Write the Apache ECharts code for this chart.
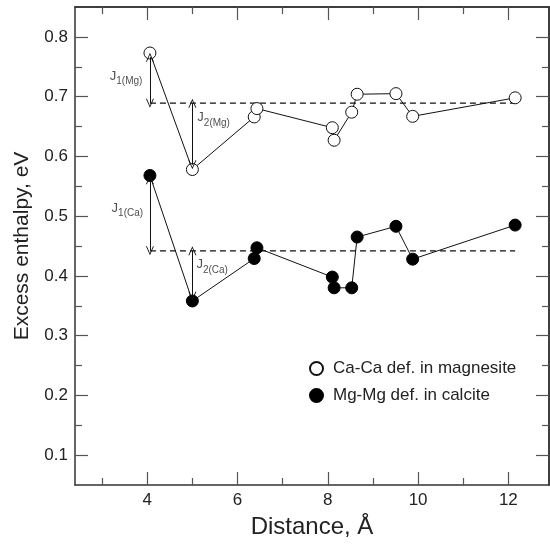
<!DOCTYPE html>
<html>
<head>
<meta charset="utf-8">
<script src="https://cdn.jsdelivr.net/npm/echarts@6/dist/echarts.min.js"></script>
<style>
  html, body { margin: 0; padding: 0; background: #fff; }
  #chart { width: 550px; height: 544px; }
</style>
</head>
<body>
<div id="chart"></div>
<script>
// distances (same for both defect pairs)
const distance = [4.06, 5.0, 6.37, 6.43, 8.10, 8.14, 8.53, 8.65, 9.51, 9.88, 12.15];
const caInMagnesite = [0.773, 0.578, 0.666, 0.680, 0.648, 0.627, 0.674, 0.704, 0.705, 0.667, 0.698];
const mgInCalcite = [0.568, 0.358, 0.429, 0.447, 0.398, 0.380, 0.380, 0.465, 0.483, 0.428, 0.485];

// dashed reference levels
const refSpan = [4.06, 12.15];
const refMg = 0.689;
const refCa = 0.442;

// J arrows: [x, from, to]
const jArrows = [
  [4.06, 0.766, 0.689],
  [5.0, 0.689, 0.586],
  [4.06, 0.561, 0.442],
  [5.0, 0.442, 0.366]
];
// J labels: [x, y, subscript]
const jLabels = [
  [3.17, 0.731, '1(Mg)'],
  [5.11, 0.662, '2(Mg)'],
  [3.21, 0.510, '1(Ca)'],
  [5.09, 0.416, '2(Ca)']
];

const xMajor = [4, 6, 8, 10, 12];
const xMinor = [3, 5, 7, 9, 11];
const yMajor = [0.1, 0.2, 0.3, 0.4, 0.5, 0.6, 0.7, 0.8];
const yMinor = [0.15, 0.25, 0.35, 0.45, 0.55, 0.65, 0.75];

const FONT = 'Liberation Sans, Arial, Helvetica, sans-serif';
const AXIS_COLOR = '#333';
const TICK_COLOR = '#555';

const arrowHead = 'path://M5,0 L10,10 L8.8,10 L5,2.2 L1.2,10 L0,10 Z';

function xAx(pos, ticks, len, labels, extra) {
  return Object.assign({
    type: 'value', position: pos, min: 2.4, max: 12.9,
    axisLine: { show: labels !== null || pos === 'top', onZero: false, lineStyle: { color: AXIS_COLOR, width: 1.5 } },
    axisTick: { show: true, inside: true, length: len, customValues: ticks, lineStyle: { color: TICK_COLOR, width: 1.2 } },
    axisLabel: labels ? { show: true, customValues: labels, fontSize: 17, color: '#222', margin: 7, fontFamily: FONT } : { show: false },
    splitLine: { show: false }
  }, extra || {});
}
function yAx(pos, ticks, len, labels, extra) {
  return Object.assign({
    type: 'value', position: pos, min: 0.05, max: 0.85,
    axisLine: { show: labels !== null || pos === 'right', onZero: false, lineStyle: { color: AXIS_COLOR, width: 1.5 } },
    axisTick: { show: true, inside: true, length: len, customValues: ticks, lineStyle: { color: TICK_COLOR, width: 1.2 } },
    axisLabel: labels ? { show: true, customValues: labels, fontSize: 17, color: '#222', margin: 7, fontFamily: FONT,
      formatter: v => v.toFixed(1) } : { show: false },
    splitLine: { show: false }
  }, extra || {});
}

const chart = echarts.init(document.getElementById('chart'));
chart.setOption({
  animation: false,
  textStyle: { fontFamily: FONT },
  grid: { left: 75, right: 1, top: 7, bottom: 59, containLabel: false },
  legend: {
    orient: 'vertical', left: 304, top: 355, itemWidth: 13, itemHeight: 13, itemGap: 10,
    icon: 'circle',
    textStyle: { fontSize: 17, color: '#222', fontFamily: FONT, padding: [0, 0, 0, 5] },
    data: ['Ca-Ca def. in magnesite', 'Mg-Mg def. in calcite']
  },
  xAxis: [
    xAx('bottom', xMajor, 13, xMajor, {
      name: 'Distance, Å', nameLocation: 'middle', nameGap: 30,
      nameTextStyle: { fontSize: 24, color: '#222', fontFamily: FONT }
    }),
    xAx('bottom', xMinor, 7, null),
    xAx('top', xMajor, 13, null),
    xAx('top', xMinor, 7, null)
  ],
  yAxis: [
    yAx('left', yMajor, 13, yMajor, {
      name: 'Excess enthalpy, eV', nameLocation: 'middle', nameGap: 42,
      nameTextStyle: { fontSize: 21, color: '#222', fontFamily: FONT }
    }),
    yAx('left', yMinor, 7, null),
    yAx('right', yMajor, 13, null),
    yAx('right', yMinor, 7, null)
  ],
  series: [
    {
      name: 'refs', type: 'line', z: 1, symbol: 'none', silent: true,
      data: [],
      markLine: {
        silent: true, animation: false,
        symbol: [arrowHead, arrowHead], symbolSize: [8, 9],
        label: { show: false },
        lineStyle: { color: '#111', width: 1, type: 'solid' },
        data: jArrows.map(a => [{ coord: [a[0], a[1]] }, { coord: [a[0], a[2]] }])
      }
    },
    {
      name: 'refMg', type: 'line', z: 1, symbol: 'none', silent: true,
      lineStyle: { color: '#111', width: 1.2, type: [6, 4] },
      data: refSpan.map(x => [x, refMg])
    },
    {
      name: 'refCa', type: 'line', z: 1, symbol: 'none', silent: true,
      lineStyle: { color: '#111', width: 1.2, type: [6, 4] },
      data: refSpan.map(x => [x, refCa])
    },
    {
      name: 'Ca-Ca def. in magnesite', type: 'line', z: 3,
      symbol: 'circle', symbolSize: 12,
      lineStyle: { color: '#111', width: 1 },
      itemStyle: { color: '#fff', borderColor: '#111', borderWidth: 1 },
      data: distance.map((x, i) => [x, caInMagnesite[i]])
    },
    {
      name: 'Mg-Mg def. in calcite', type: 'line', z: 3,
      symbol: 'circle', symbolSize: 12,
      lineStyle: { color: '#111', width: 1 },
      itemStyle: { color: '#000', borderColor: '#000', borderWidth: 1 },
      data: distance.map((x, i) => [x, mgInCalcite[i]])
    },
    {
      name: 'jlabels', type: 'scatter', z: 4, symbolSize: 0, silent: true,
      data: jLabels.map(l => [l[0], l[1], l[2]]),
      label: {
        show: true, position: 'right', distance: 0,
        formatter: p => '{j|J}{s|' + p.value[2] + '}',
        rich: {
          j: { fontSize: 13, color: '#222', fontFamily: FONT, verticalAlign: 'top', lineHeight: 17 },
          s: { fontSize: 10, color: '#222', fontFamily: FONT, verticalAlign: 'bottom', lineHeight: 17 }
        }
      }
    }
  ]
});
</script>
</body>
</html>
